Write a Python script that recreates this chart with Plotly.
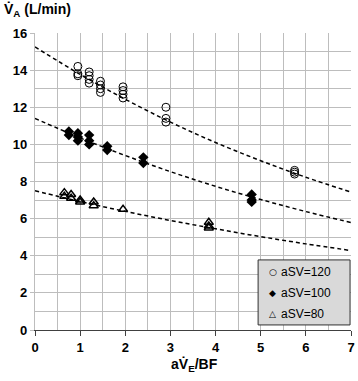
import plotly.graph_objects as go

# aSV=120 (open circles)
x120 = [0.95, 0.95, 0.95, 1.2, 1.2, 1.2, 1.2, 1.45, 1.45, 1.45, 1.45, 1.95, 1.95, 1.95, 1.95, 2.9, 2.9, 2.9, 5.75, 5.75, 5.75]
y120 = [14.2, 13.8, 13.7, 13.9, 13.7, 13.5, 13.3, 13.4, 13.2, 13.0, 12.8, 13.1, 12.9, 12.7, 12.5, 12.0, 11.4, 11.2, 8.6, 8.5, 8.4]
# aSV=100 (diamonds)
x100 = [0.75, 0.75, 0.95, 0.95, 0.95, 1.2, 1.2, 1.2, 1.6, 1.6, 2.4, 2.4, 4.8, 4.8, 4.8]
y100 = [10.7, 10.5, 10.6, 10.4, 10.2, 10.5, 10.2, 10.0, 9.9, 9.7, 9.3, 9.0, 7.3, 7.0, 6.9]
# aSV=80 (triangles)
x80 = [0.65, 0.65, 0.8, 0.8, 1.0, 1.0, 1.3, 1.3, 1.95, 3.85, 3.85, 3.85]
y80 = [7.4, 7.2, 7.3, 7.1, 7.0, 6.9, 6.9, 6.7, 6.5, 5.8, 5.6, 5.5]

# fitted dashed curves, read at integer x
xfit = [0, 1, 2, 3, 4, 5, 6, 7]
fit120 = [15.25, 13.77, 12.43, 11.2, 10.1, 9.12, 8.23, 7.43]
fit100 = [11.4, 10.35, 9.4, 8.53, 7.74, 7.03, 6.38, 5.79]
fit80 = [7.5, 6.92, 6.39, 5.9, 5.45, 5.03, 4.64, 4.28]

legend_labels = ["aSV=120", "aSV=100", "aSV=80"]
legend_glyphs = ["\u25CB", "\u25C6", "\u25B3"]

FONT = "Liberation Sans"
fig = go.Figure()
for yy in (fit120, fit100, fit80):
    fig.add_trace(go.Scatter(x=xfit, y=yy, mode="lines",
                             line=dict(color="black", width=1.5, dash="4px,3px", shape="spline"),
                             showlegend=False, hoverinfo="skip"))

fig.add_trace(go.Scatter(x=x120, y=y120, mode="markers", name=legend_labels[0], showlegend=False,
                         marker=dict(symbol="circle-open", size=8, color="black", line=dict(width=1))))
fig.add_trace(go.Scatter(x=x100, y=y100, mode="markers", name=legend_labels[1], showlegend=False,
                         marker=dict(symbol="diamond", size=8, color="black")))
fig.add_trace(go.Scatter(x=x80, y=y80, mode="markers", name=legend_labels[2], showlegend=False,
                         marker=dict(symbol="triangle-up-open", size=8, color="black", line=dict(width=1.5))))

# legend box drawn manually (compact, like the original)
fig.add_shape(type="rect", xref="paper", yref="paper", x0=0.706, x1=0.997, y0=0.017, y1=0.236,
              fillcolor="#d9d9d9", line=dict(color="#303030", width=1), layer="above")
annotations = []
rows_y = [0.195, 0.125, 0.054]
for lab, gl, ry in zip(legend_labels, legend_glyphs, rows_y):
    annotations.append(dict(text=gl, xref="paper", yref="paper", x=0.753, y=ry, xanchor="center", yanchor="middle",
                            showarrow=False, font=dict(family="DejaVu Sans", size=9, color="black")))
    annotations.append(dict(text=lab, xref="paper", yref="paper", x=0.772, y=ry, xanchor="left", yanchor="middle",
                            showarrow=False, font=dict(family=FONT, size=12, color="black")))

annotations += [
    dict(text="V\u0307<sub>A</sub> (L/min)", xref="paper", yref="paper", x=-0.103, y=1.077,
         xanchor="left", yanchor="middle", showarrow=False,
         font=dict(family=FONT, size=14, color="black", weight="bold")),
    dict(text="aV\u0307<sub>E</sub>/BF", xref="paper", yref="paper", x=0.506, y=-0.118,
         xanchor="center", yanchor="middle", showarrow=False,
         font=dict(family=FONT, size=14, color="black", weight="bold")),
]

grid = "#bdbdbd"
fig.update_layout(
    width=358, height=381,
    margin=dict(l=35, r=3, t=33, b=51),
    plot_bgcolor="white", paper_bgcolor="white",
    font=dict(family=FONT, size=12, color="black"),
    showlegend=False,
    xaxis=dict(range=[0, 7], dtick=1, showgrid=True, gridcolor=grid, gridwidth=1.3,
               minor=dict(dtick=0.5, showgrid=True, gridcolor=grid, gridwidth=1.3),
               showline=True, linecolor="#404040", linewidth=1, ticks="outside", ticklen=5, tickcolor="#404040",
               ticklabeloverflow="allow",
               tickfont=dict(family=FONT, size=13, color="black", weight="bold"), zeroline=False, fixedrange=True),
    yaxis=dict(range=[0, 16], dtick=2, showgrid=True, gridcolor=grid, gridwidth=1.3,
               minor=dict(dtick=1, showgrid=True, gridcolor=grid, gridwidth=1.3),
               showline=True, linecolor=grid, linewidth=1.3, ticks="outside", ticklen=4, tickcolor=grid,
               tickfont=dict(family=FONT, size=13, color="black", weight="bold"), zeroline=False, fixedrange=True),
    annotations=annotations,
)
fig.write_html("out.html", config={"displayModeBar": False},
               post_script="document.body.style.margin='0';")
